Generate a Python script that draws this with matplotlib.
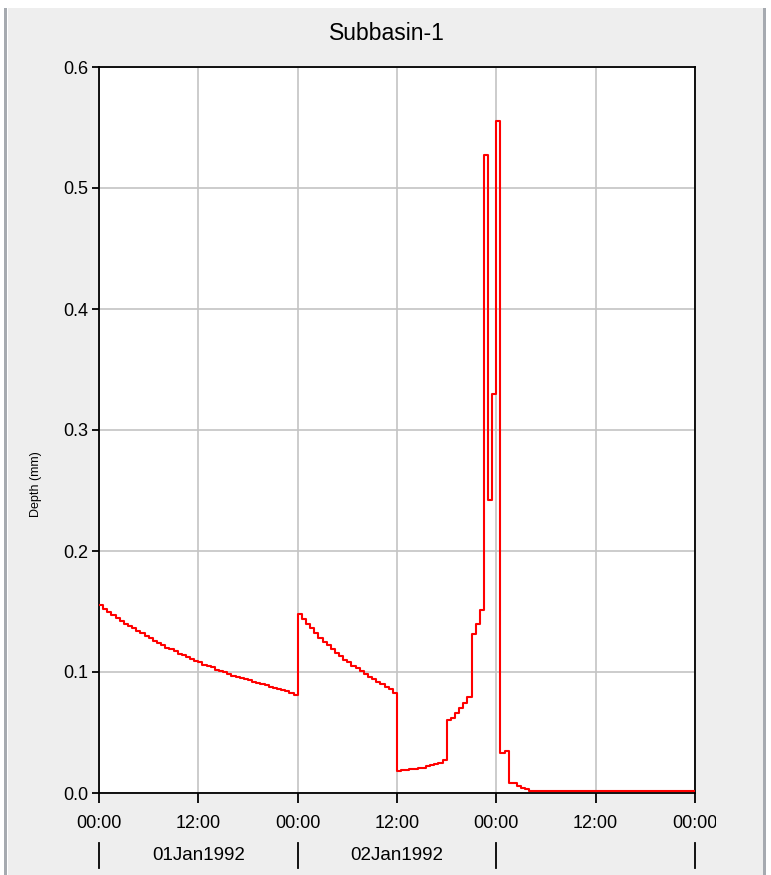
import matplotlib
matplotlib.use("Agg")
import matplotlib.pyplot as plt
import matplotlib.dates as mdates
import matplotlib.transforms as mtransforms
from matplotlib.patches import Rectangle
import pandas as pd

plt.rcParams['font.family'] = ['Liberation Sans', 'DejaVu Sans']

# half-hourly depth (mm), 01Jan1992 00:00 -> 04Jan1992 00:00
day1_depth = [0.155, 0.152, 0.150, 0.147, 0.145, 0.142, 0.140, 0.138, 0.136, 0.134, 0.132, 0.130,
              0.128, 0.126, 0.124, 0.122, 0.120, 0.119, 0.117, 0.115, 0.114, 0.112, 0.111, 0.109,
              0.108, 0.106, 0.105, 0.104, 0.102, 0.101, 0.100, 0.098, 0.097, 0.096, 0.095, 0.094,
              0.093, 0.092, 0.091, 0.090, 0.089, 0.088, 0.087, 0.086, 0.085, 0.084, 0.083, 0.081]
day2_am_depth = [0.148, 0.144, 0.140, 0.136, 0.132, 0.128, 0.125, 0.122, 0.119, 0.116, 0.113, 0.110,
                 0.108, 0.105, 0.103, 0.101, 0.098, 0.096, 0.094, 0.092, 0.090, 0.088, 0.086, 0.083]
day2_pm_depth = [0.018, 0.019, 0.019, 0.020, 0.020, 0.021, 0.021, 0.022, 0.023, 0.024, 0.025, 0.027,
                 0.060, 0.062, 0.066, 0.070, 0.074, 0.079,
                 0.131, 0.140, 0.151, 0.527, 0.242, 0.330]
day3_depth = [0.555, 0.033, 0.035, 0.008, 0.008, 0.006, 0.004, 0.003,
              0.002, 0.002, 0.002, 0.002, 0.002, 0.002, 0.002, 0.002, 0.002, 0.002,
              0.002, 0.002, 0.002, 0.002, 0.002, 0.002, 0.002, 0.002, 0.002, 0.002,
              0.002, 0.002, 0.002, 0.002, 0.002, 0.002, 0.002, 0.002, 0.002, 0.002,
              0.002, 0.002, 0.002, 0.002, 0.002, 0.002, 0.002, 0.002, 0.002, 0.002]
depth = day1_depth + day2_am_depth + day2_pm_depth + day3_depth

times = pd.date_range('1992-01-01 00:00', periods=len(depth) + 1, freq='30min')
day_starts = pd.date_range('1992-01-01', '1992-01-04', freq='D')
day_labels = ['01Jan1992', '02Jan1992']
y_ticks = [0.0, 0.1, 0.2, 0.3, 0.4, 0.5, 0.6]

W, H = 771, 875
fig = plt.figure(figsize=(W / 100, H / 100), dpi=100, facecolor='white')

# panel background with side borders
fig.patches.append(Rectangle((8 / W, 0), 755 / W, 1 - 8 / H, transform=fig.transFigure,
                             facecolor='#eeeeee', edgecolor='none', zorder=-2))
for bx in (4, 763):
    fig.patches.append(Rectangle((bx / W, 0), 3 / W, 1 - 8 / H, transform=fig.transFigure,
                                 facecolor='#a6aab0', edgecolor='none', zorder=-1))

ax = fig.add_axes([99 / W, 1 - 793 / H, 596 / W, 726 / H])
ax.set_facecolor('white')

ax.step(times, depth + [depth[-1]], where='post', color='#ff0000', lw=1.5, zorder=3)

ax.set_xlim(times[0], times[-1])
ax.set_ylim(0, 0.6)
ax.set_yticks(y_ticks)
ax.set_yticklabels(['%.1f' % v for v in y_ticks])
ax.xaxis.set_major_locator(mdates.HourLocator(byhour=[0, 12]))
ax.xaxis.set_major_formatter(mdates.DateFormatter('%H:%M'))
ax.grid(True, color='#c4c4c4', lw=1.2)
ax.set_axisbelow(True)
for s in ax.spines.values():
    s.set_color('black')
    s.set_linewidth(1.3)
ax.tick_params(axis='y', length=5, width=1.3, pad=3, labelsize=13)
ax.tick_params(axis='x', length=7, width=1.3, pad=9, labelsize=13)

# the last tick label is cut off at the panel edge in the original
fig.patches.append(Rectangle((716 / W, 1 - 840 / H), 47 / W, 36 / H, transform=fig.transFigure,
                             facecolor='#eeeeee', edgecolor='none', zorder=5))
fig.patches.append(Rectangle((763 / W, 1 - 840 / H), 3 / W, 36 / H, transform=fig.transFigure,
                             facecolor='#a6aab0', edgecolor='none', zorder=6))
fig.patches.append(Rectangle((766 / W, 1 - 840 / H), 5 / W, 36 / H, transform=fig.transFigure,
                             facecolor='white', edgecolor='none', zorder=6))

# date row: separators at day boundaries and labels at midday
trans = mtransforms.blended_transform_factory(ax.transData, fig.transFigure)
for d in day_starts:
    ax.plot([d, d], [1 - 843 / H, 1 - 868 / H], color='black', lw=1.3,
            transform=trans, clip_on=False)
for d, lab in zip(day_starts, day_labels):
    ax.text(d + pd.Timedelta(hours=12), 1 - 856 / H, lab, transform=trans,
            ha='center', va='center', fontsize=13.5)

fig.text(387 / W, 1 - 33 / H, 'Subbasin-1', ha='center', va='center', fontsize=16.5)
fig.text(36 / W, 1 - 484 / H, 'Depth (mm)', ha='center', va='center', rotation=90, fontsize=9)

fig.savefig('out.png', dpi=100, facecolor=fig.get_facecolor())
